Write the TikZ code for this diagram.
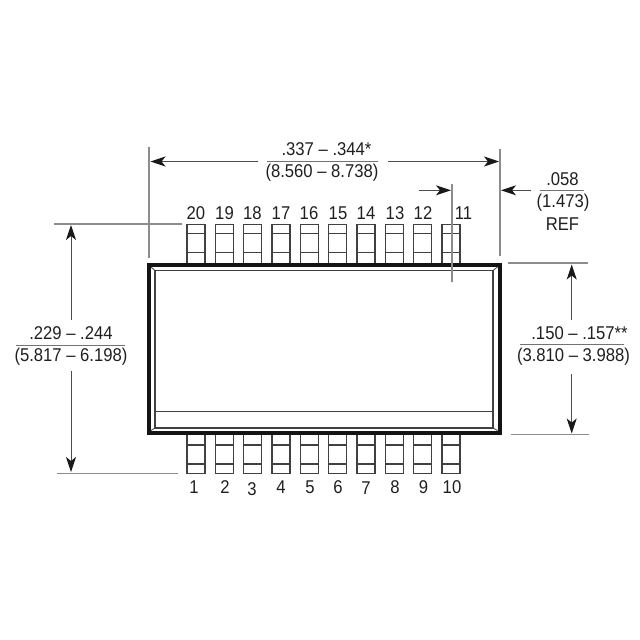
\documentclass[tikz,border=0pt]{standalone}
\usepackage{fontspec}
\setmainfont[FakeStretch=0.9]{Liberation Sans}
\usetikzlibrary{arrows.meta}
\definecolor{extgray}{gray}{0.55}
\definecolor{pinline}{gray}{0.25}
\definecolor{bodyline}{gray}{0.08}
\tikzset{
  x=1pt,y=-1pt,
  txt/.style={inner sep=0pt,font=\fontsize{18.5}{20}\selectfont,text=black!88},
  pinbox/.style={draw=pinline,line width=1.1pt},
  ext/.style={draw=extgray,line width=1.1pt},
  dimarrow/.style={draw=black!70,line width=1pt,-{Stealth[length=15pt,width=10pt,inset=4pt,black!90]}},
  rulel/.style={draw=black!55,line width=0.9pt},
}
\begin{document}
\begin{tikzpicture}
\useasboundingbox (0,0) rectangle (640,640);
% pins
\foreach \i in {0,...,9}{
  \pgfmathsetmacro{\px}{187+28.33*\i}
  \pgfmathsetmacro{\qx}{\px+18}
  \draw[pinbox] (\px,265) -- (\px,224.5) -- (\qx,224.5) -- (\qx,265);
  \draw[pinbox] (\px,233.5) -- (\qx,233.5) (\px,252.7) -- (\qx,252.7);
  \draw[pinbox] (\px,432) -- (\px,473.3) -- (\qx,473.3) -- (\qx,432);
  \draw[pinbox] (\px,445) -- (\qx,445) (\px,464) -- (\qx,464);
}
% body
\draw[draw=bodyline,line width=4pt,fill=white] (149,265) rectangle (499.5,432.5);
\draw[draw=pinline,line width=1.1pt] (155,270.5) rectangle (493,428);
\draw[draw=pinline,line width=1pt] (155,411) -- (493,411);
\draw[draw=pinline,line width=0.8pt] (151,267) -- (155,270.5) (497.5,267) -- (493,270.5) (151,430.5) -- (155,428) (497.5,430.5) -- (493,428);
% extension lines
\coordinate (eL1) at (149,147); \coordinate (eL2) at (149,258);
\coordinate (eR1) at (500,149); \coordinate (eR2) at (500,256);
\coordinate (p1) at (452,184); \coordinate (p2) at (452,282);
\coordinate (t1) at (54,224); \coordinate (t2) at (182,224);
\coordinate (b1) at (57,473.7); \coordinate (b2) at (178,473.7);
\coordinate (r1) at (508,263); \coordinate (r2) at (588,263);
\coordinate (s1) at (511,434.7); \coordinate (s2) at (589,434.7);
\draw[ext] (eL1) -- (eL2);
\draw[ext] (eR1) -- (eR2);
\draw[ext] (p1) -- (p2);
\draw[ext] (t1) -- (t2);
\draw[ext] (b1) -- (b2);
\draw[ext] (r1) -- (r2);
\draw[ext] (s1) -- (s2);
% top dimension
\node[txt] (a1) at (326.5,149) {.337 – .344*};
\node[txt] (a2) at (322,172.5) {(8.560 – 8.738)};
\coordinate (a3) at (267,161); \coordinate (a4) at (378,161);
\draw[rulel] (a3) -- (a4);
\coordinate (a5) at (258,161.5); \coordinate (a6) at (150.5,161.5);
\coordinate (a7) at (388,161.5); \coordinate (a8) at (499,161.5);
\draw[dimarrow] (a5) -- (a6);
\draw[dimarrow] (a7) -- (a8);
% .058
\coordinate (c1) at (419,190.3); \coordinate (c2) at (451,190.3);
\coordinate (c3) at (531,190.3); \coordinate (c4) at (501,190.3);
\draw[dimarrow] (c1) -- (c2);
\draw[dimarrow] (c3) -- (c4);
\node[txt] (d1) at (562.5,179.5) {.058};
\node[txt] (d2) at (563,203) {(1.473)};
\node[txt] (d3) at (562.5,224) {REF};
\coordinate (d4) at (540,190.3); \coordinate (d5) at (584,190.3);
\draw[rulel] (d4) -- (d5);
% left dimension
\node[txt] (l1) at (71,333) {.229 – .244};
\node[txt] (l2) at (71,357) {(5.817 – 6.198)};
\coordinate (l3) at (16,345); \coordinate (l4) at (125,345);
\draw[rulel] (l3) -- (l4);
\coordinate (l5) at (71,320); \coordinate (l6) at (71,225);
\coordinate (l7) at (71,371); \coordinate (l8) at (71,472);
\draw[dimarrow] (l5) -- (l6);
\draw[dimarrow] (l7) -- (l8);
% right dimension
\node[txt] (q1) at (579.5,333) {.150 – .157**};
\node[txt] (q2) at (573.5,357) {(3.810 – 3.988)};
\coordinate (q3) at (520,344.5); \coordinate (q4) at (624,344.5);
\draw[rulel] (q3) -- (q4);
\coordinate (q5) at (571.7,320); \coordinate (q6) at (571.7,264.5);
\coordinate (q7) at (571.7,374); \coordinate (q8) at (571.7,433.5);
\draw[dimarrow] (q5) -- (q6);
\draw[dimarrow] (q7) -- (q8);
% pin numbers
\foreach \n/\x/\y in {20/196/213,19/224.5/213,18/252.5/213,17/281/213,16/309/213,15/338/213,14/366/213,13/395/213,12/423/213,11/463.5/213,
  1/194/487,2/225/487,3/252/489,4/281/487,5/310/487,6/338/487,7/366/488,8/395/487,9/423.5/487,10/452/487}
  \node[txt] (n\n) at (\x,\y) {\n};
\end{tikzpicture}
\end{document}
